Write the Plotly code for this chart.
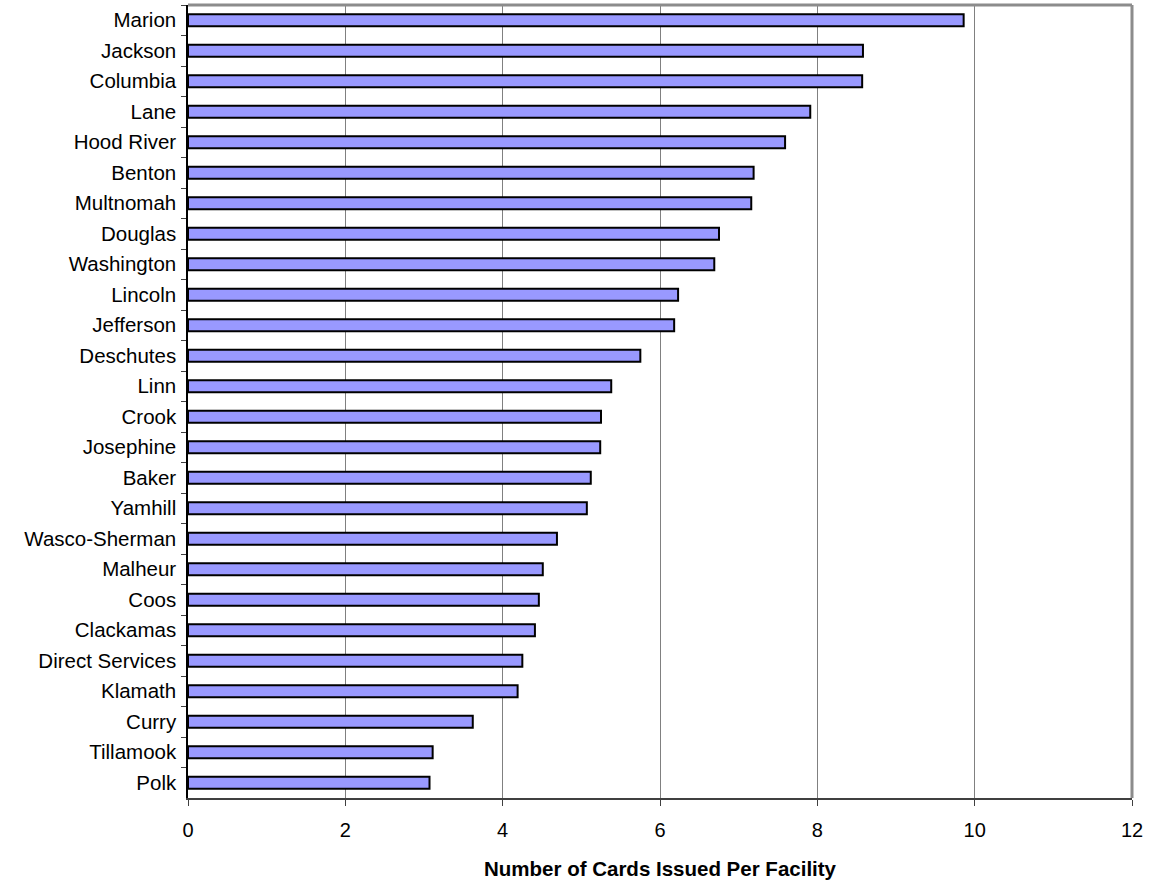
import plotly.graph_objects as go

counties = ["Marion", "Jackson", "Columbia", "Lane", "Hood River", "Benton", "Multnomah",
            "Douglas", "Washington", "Lincoln", "Jefferson", "Deschutes", "Linn", "Crook",
            "Josephine", "Baker", "Yamhill", "Wasco-Sherman", "Malheur", "Coos", "Clackamas",
            "Direct Services", "Klamath", "Curry", "Tillamook", "Polk"]
cards_per_facility = [9.86, 8.58, 8.57, 7.91, 7.59, 7.19, 7.16, 6.75, 6.69, 6.23, 6.18,
                      5.75, 5.38, 5.25, 5.24, 5.12, 5.07, 4.69, 4.51, 4.46, 4.41, 4.25,
                      4.19, 3.62, 3.11, 3.07]
x_ticks = [0, 2, 4, 6, 8, 10, 12]
x_title = "Number of Cards Issued Per Facility"

fig = go.Figure(go.Bar(
    y=counties,
    x=cards_per_facility,
    orientation="h",
    marker=dict(color="#9999FF", line=dict(color="black", width=2)),
    width=0.4,
))

fig.update_layout(
    width=1150, height=884,
    margin=dict(l=188, r=18, t=5, b=86),
    paper_bgcolor="white", plot_bgcolor="white",
    font=dict(family="Liberation Sans, Arial, sans-serif", size=20, color="black"),
    showlegend=False,
    bargap=0.6,
)
fig.update_xaxes(
    range=[0, 12], tickvals=x_ticks, ticktext=[str(v) for v in x_ticks],
    showgrid=True, gridcolor="#808080", gridwidth=1,
    showline=True, linecolor="#404040", linewidth=2,
    ticks="outside", ticklen=6, tickcolor="#404040", tickwidth=1,
    ticklabelstandoff=7,
    tickfont=dict(size=20), zeroline=False,
    title=dict(text="<b>" + x_title + "</b>", font=dict(size=20.5), standoff=22),
)
fig.update_yaxes(
    categoryorder="array", categoryarray=counties, autorange="reversed",
    showline=True, linecolor="black", linewidth=2,
    ticks="outside", ticklen=5, tickcolor="#404040", tickson="boundaries",
    showgrid=False, tickfont=dict(size=20.5), ticksuffix=" ",
)
# top and right gray plot-area border
fig.add_shape(type="line", xref="paper", yref="paper", x0=0, x1=1, y0=1, y1=1,
              line=dict(color="#8c8c8c", width=3))
fig.add_shape(type="line", xref="paper", yref="paper", x0=1, x1=1, y0=0, y1=1,
              line=dict(color="#8c8c8c", width=3))

fig.write_html("out.html", config={"displayModeBar": False},
               post_script="document.body.style.margin='0';")
